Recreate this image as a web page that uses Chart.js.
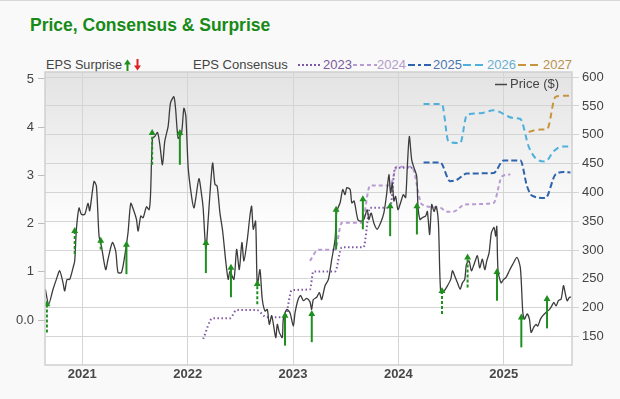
<!DOCTYPE html>
<html><head><meta charset="utf-8">
<script src="https://cdn.jsdelivr.net/npm/chart.js@4.4.1/dist/chart.umd.min.js"></script>
<style>
html,body{margin:0;padding:0;background:#f8f8f8;}
#wrap{position:relative;width:620px;height:399px;overflow:hidden;background:#f9f9f9;font-family:"Liberation Sans",Arial,sans-serif;}
#topline{position:absolute;left:0;top:0;width:620px;height:1px;background:#d8d8d8;}
#title{position:absolute;left:30px;top:15px;font-size:17.5px;line-height:20px;font-weight:bold;color:#178a17;white-space:nowrap;}
.lg{position:absolute;top:57px;font-size:13px;line-height:16px;color:#444;white-space:nowrap;}
.smp{position:absolute;top:63px;}
canvas{position:absolute;left:0;top:0;}
</style></head>
<body><div id="wrap">
<div id="topline"></div>
<div id="title">Price, Consensus &amp; Surprise</div>
<div class="lg" style="left:46px;font-size:12.7px">EPS Surprise</div>
<svg class="smp" style="left:124px;top:59px" width="20" height="12">
<path d="M3.5 12 L3.5 5" stroke="#1f8f1f" stroke-width="2"/><path d="M0 5.5 L3.5 0.5 L7 5.5 Z" fill="#1f8f1f"/>
<path d="M13.5 0 L13.5 7" stroke="#e02020" stroke-width="2"/><path d="M10 6.5 L13.5 11.5 L17 6.5 Z" fill="#e02020"/>
</svg>
<div class="lg" style="left:193px">EPS Consensus</div>
<svg class="smp" style="left:298px" width="24" height="4"><line x1="0" y1="2" x2="24" y2="2" stroke="#7e57a8" stroke-width="2" stroke-dasharray="2,2"/></svg>
<div class="lg" style="left:323px;color:#7a5a9e">2023</div>
<svg class="smp" style="left:353px" width="24" height="4"><line x1="0" y1="2" x2="24" y2="2" stroke="#b99bd3" stroke-width="2" stroke-dasharray="4,3"/></svg>
<div class="lg" style="left:377px;color:#b39cca">2024</div>
<svg class="smp" style="left:408px" width="24" height="4"><line x1="0" y1="2" x2="24" y2="2" stroke="#2e63ad" stroke-width="2" stroke-dasharray="7,3,3,3"/></svg>
<div class="lg" style="left:433px;color:#4b77b0">2025</div>
<svg class="smp" style="left:463px" width="24" height="4"><line x1="0" y1="2" x2="24" y2="2" stroke="#4fb0db" stroke-width="2" stroke-dasharray="8,4"/></svg>
<div class="lg" style="left:487px;color:#6aaed0">2026</div>
<svg class="smp" style="left:518px" width="24" height="4"><line x1="0" y1="2" x2="24" y2="2" stroke="#c8953f" stroke-width="2" stroke-dasharray="8,4"/></svg>
<div class="lg" style="left:543px;color:#b8904f">2027</div>
<canvas id="c" width="620" height="399"></canvas>
<svg style="position:absolute;left:495px;top:83px" width="12" height="3"><line x1="0" y1="1.5" x2="12" y2="1.5" stroke="#444" stroke-width="1.5"/></svg>
<div class="lg" style="left:510px;top:76px">Price ($)</div>
</div>
<script>
// ---- data (dates as decimal years) ----
const yearTicks = [2021, 2022, 2023, 2024, 2025];
const epsTicks = [0, 1, 2, 3, 4, 5];
const priceTicks = [150, 200, 250, 300, 350, 400, 450, 500, 550, 600];

const priceDates = [2020.649,2020.681,2020.721,2020.754,2020.785,2020.817,2020.833,2020.855,2020.880,2020.912,2020.928,2020.944,2020.969,2020.991,2021.023,2021.054,2021.070,2021.111,2021.134,2021.159,2021.181,2021.222,2021.244,2021.286,2021.317,2021.339,2021.372,2021.403,2021.434,2021.460,2021.489,2021.514,2021.530,2021.555,2021.577,2021.609,2021.634,2021.647,2021.666,2021.688,2021.714,2021.736,2021.761,2021.783,2021.815,2021.837,2021.869,2021.885,2021.910,2021.942,2021.964,2021.983,2022.005,2022.037,2022.059,2022.078,2022.107,2022.132,2022.147,2022.173,2022.195,2022.211,2022.237,2022.259,2022.280,2022.306,2022.332,2022.363,2022.385,2022.401,2022.439,2022.465,2022.490,2022.515,2022.534,2022.566,2022.591,2022.607,2022.623,2022.645,2022.661,2022.686,2022.708,2022.734,2022.756,2022.775,2022.798,2022.836,2022.851,2022.870,2022.898,2022.908,2022.940,2022.971,2023.003,2023.019,2023.050,2023.073,2023.098,2023.130,2023.161,2023.177,2023.193,2023.225,2023.250,2023.272,2023.304,2023.336,2023.368,2023.399,2023.415,2023.447,2023.472,2023.494,2023.510,2023.542,2023.558,2023.580,2023.615,2023.640,2023.672,2023.704,2023.720,2023.742,2023.767,2023.799,2023.831,2023.863,2023.888,2023.910,2023.926,2023.942,2023.958,2023.974,2023.996,2024.021,2024.047,2024.069,2024.085,2024.104,2024.126,2024.148,2024.174,2024.186,2024.205,2024.227,2024.259,2024.275,2024.297,2024.316,2024.339,2024.358,2024.380,2024.402,2024.434,2024.466,2024.497,2024.513,2024.535,2024.561,2024.586,2024.608,2024.630,2024.646,2024.671,2024.693,2024.718,2024.750,2024.772,2024.797,2024.820,2024.839,2024.861,2024.883,2024.908,2024.924,2024.934,2024.946,2024.975,2024.999,2025.021,2025.053,2025.085,2025.126,2025.158,2025.181,2025.197,2025.222,2025.244,2025.260,2025.285,2025.307,2025.323,2025.349,2025.371,2025.403,2025.434,2025.456,2025.475,2025.497,2025.519,2025.545,2025.567,2025.586,2025.602,2025.624,2025.640];
const priceValues = [232,206,231,249,264,243,229,249,249,269,281,336,373,362,362,381,368,419,411,324,307,266,284,313,298,261,261,290,330,381,368,353,333,359,356,375,370,393,494,497,504,483,448,489,515,555,566,546,494,503,546,532,443,393,373,391,424,396,373,301,353,396,451,414,411,365,333,278,249,263,249,301,266,313,281,318,359,376,336,350,238,266,215,194,197,171,186,148,171,157,148,180,197,191,168,191,215,221,212,216,210,197,214,218,226,214,238,249,284,318,367,382,405,396,408,405,382,385,353,350,353,370,353,364,347,336,347,365,396,431,399,416,385,393,370,382,396,391,445,497,457,443,428,376,353,356,359,367,327,379,367,376,347,226,229,238,249,264,255,243,232,243,249,275,281,264,275,290,269,284,266,281,295,330,339,324,341,264,243,249,252,264,275,287,269,192,180,189,180,157,166,171,168,180,186,192,197,203,209,203,212,215,238,223,212,218,218];

const cons2023Dates = [2022.147,2022.237,2022.401,2022.465,2022.655,2022.750,2022.924,2022.988,2023.161,2023.193,2023.399,2023.463,2023.668,2023.732,2023.922,2023.970,2024.144];
const cons2023Values = [-0.39,0.04,0.04,0.21,0.21,0.06,0.06,0.62,0.64,1.01,1.01,1.51,1.51,2.33,2.33,3.16,3.16];
const cons2024Dates = [2023.161,2023.240,2023.399,2023.463,2023.653,2023.732,2023.922,2023.986,2024.128,2024.223,2024.397,2024.461,2024.521,2024.635,2024.904,2024.984,2025.063];
const cons2024Values = [1.23,1.46,1.46,2.02,2.02,2.79,2.79,3.18,3.18,2.40,2.33,2.25,2.25,2.40,2.43,2.98,3.02];
const cons2025Dates = [2024.239,2024.397,2024.492,2024.556,2024.651,2024.904,2024.999,2025.158,2025.222,2025.269,2025.396,2025.491,2025.570,2025.633];
const cons2025Values = [3.27,3.27,2.88,2.91,3.04,3.05,3.31,3.31,2.77,2.58,2.53,3.02,3.07,3.06];
const cons2026Dates = [2024.239,2024.413,2024.476,2024.587,2024.651,2024.778,2024.904,2025.094,2025.158,2025.237,2025.317,2025.396,2025.474,2025.554,2025.633];
const cons2026Values = [4.48,4.48,3.70,3.67,4.26,4.29,4.35,4.19,4.17,3.60,3.33,3.29,3.50,3.60,3.60];
const cons2027Dates = [2025.237,2025.332,2025.412,2025.491,2025.554,2025.633];
const cons2027Values = [3.90,3.95,3.96,4.63,4.65,4.65];

const surpriseDates = [2020.664,2020.928,2021.175,2021.419,2021.663,2021.926,2022.173,2022.411,2022.661,2022.924,2023.178,2023.409,2023.663,2023.922,2024.176,2024.414,2024.657,2024.936,2025.167,2025.411];
const surpriseFrom = [157,293,301,258,448,448,260,218,206,134,140,301,336,324,327,189,235,212,131,164];
const surpriseTo   = [206,333,316,309,503,503,312,269,241,186,189,370,388,376,376,229,287,262,183,215];
const surpriseEstimated = [1,1,1,0,1,0,0,0,1,0,0,0,0,0,0,1,1,0,0,0];

// ---- chart ----
const toXY = (xs, ys) => xs.map((x, i) => ({x: x, y: ys[i]}));
const GREEN = '#1f8f1f';
const datasets = [];
datasets.push({data: toXY(priceDates, priceValues), yAxisID: 'yP', borderColor: '#3c3c3c', borderWidth: 1.3, pointRadius: 0, tension: 0.25, order: 2});
const cons = [
  [cons2023Dates, cons2023Values, '#7e57a8', [1.5, 2.5]],
  [cons2024Dates, cons2024Values, '#b99bd3', [4, 3]],
  [cons2025Dates, cons2025Values, '#2e63ad', [6, 3]],
  [cons2026Dates, cons2026Values, '#4fb0db', [6, 4]],
  [cons2027Dates, cons2027Values, '#c8953f', [6, 4]]
];
cons.forEach(c => datasets.push({data: toXY(c[0], c[1]), yAxisID: 'yE', borderColor: c[2], borderWidth: 2, borderDash: c[3], pointRadius: 0, cubicInterpolationMode: 'monotone', order: 3}));
surpriseDates.forEach((d, i) => {
  datasets.push({
    data: [{x: d, y: surpriseFrom[i]}, {x: d, y: surpriseTo[i]}], yAxisID: 'yP',
    borderColor: GREEN, borderWidth: 2, borderDash: surpriseEstimated[i] ? [3, 2] : [],
    pointRadius: [0, 4], pointStyle: 'triangle', pointBackgroundColor: GREEN, pointBorderColor: GREEN, pointBorderWidth: 0, order: 1
  });
});

const bgPlugin = {
  id: 'bg',
  beforeDraw(chart) {
    const a = chart.chartArea, ctx = chart.ctx;
    const g = ctx.createLinearGradient(0, a.top, 0, a.bottom);
    g.addColorStop(0, '#e3e3e3');
    g.addColorStop(0.55, '#ffffff');
    g.addColorStop(1, '#ffffff');
    ctx.save(); ctx.fillStyle = g; ctx.fillRect(a.left, a.top, a.right - a.left, a.bottom - a.top); ctx.restore();
  },
  afterDraw(chart) {
    const a = chart.chartArea, ctx = chart.ctx;
    ctx.save(); ctx.strokeStyle = '#cfcfcf'; ctx.lineWidth = 1.5;
    ctx.strokeRect(a.left, a.top, a.right - a.left, a.bottom - a.top); ctx.restore();
  }
};
const tickFont = {family: '"Liberation Sans", Arial, sans-serif', size: 13};
new Chart(document.getElementById('c'), {
  type: 'line',
  data: {datasets: datasets},
  plugins: [bgPlugin],
  options: {
    responsive: false, animation: false,
    layout: {padding: {left: 0, right: 0, top: 72, bottom: 0}},
    plugins: {legend: {display: false}, tooltip: {enabled: false}},
    scales: {
      x: {type: 'linear', min: 2020.646, max: 2025.648,
        afterFit(s) { s.height = 34; },
        afterBuildTicks(s) { s.ticks = yearTicks.map(v => ({value: v})); },
        ticks: {callback: v => String(v), font: {family: tickFont.family, size: 13, weight: 'bold'}, color: '#474747', padding: 2, maxRotation: 0, autoSkip: false},
        grid: {color: '#d4d4d4', drawTicks: false}, border: {display: false}},
      yE: {type: 'linear', position: 'left', min: -0.93, max: 5.145,
        afterFit(s) { s.width = 45; },
        afterBuildTicks(s) { s.ticks = epsTicks.map(v => ({value: v})); },
        ticks: {callback: v => v === 0 ? '0.0' : String(v), font: tickFont, color: '#444', padding: 4},
        grid: {drawOnChartArea: false, drawTicks: true, tickLength: 7, color: '#bdbdbd'}, border: {display: false}},
      yP: {type: 'linear', position: 'right', min: 100.4, max: 609,
        afterFit(s) { s.width = 48; },
        afterBuildTicks(s) { s.ticks = priceTicks.map(v => ({value: v})); },
        ticks: {font: tickFont, color: '#444', padding: 3},
        grid: {color: '#d4d4d4', drawTicks: true, tickLength: 7}, border: {display: false}}
    }
  }
});
</script>
</body></html>
